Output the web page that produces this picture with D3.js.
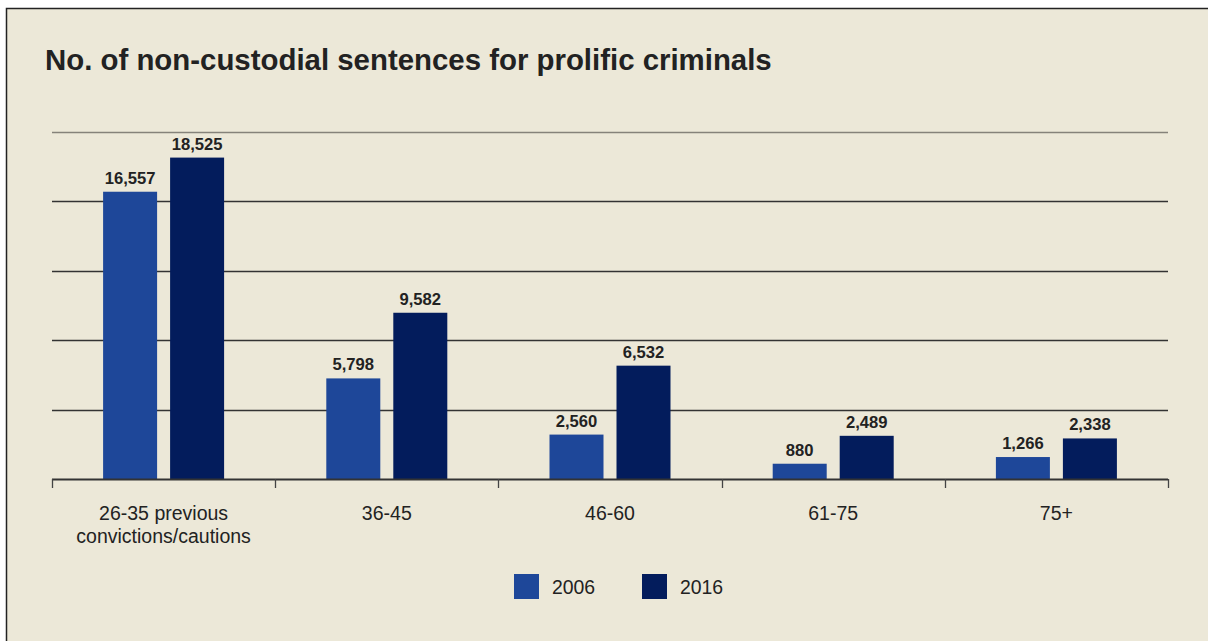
<!DOCTYPE html>
<html><head><meta charset="utf-8">
<script src="https://cdn.jsdelivr.net/npm/d3@7"></script>
<style>html,body{margin:0;padding:0;background:#fff;}svg{display:block;}</style>
</head><body>
<svg id="chart" width="1208" height="641"></svg>
<script>
const categories = [["26-35 previous","convictions/cautions"],["36-45"],["46-60"],["61-75"],["75+"]];
const series = ["2006","2016"];
const values2006 = [16557, 5798, 2560, 880, 1266];
const values2016 = [18525, 9582, 6532, 2489, 2338];
const yTicks = [0, 4000, 8000, 12000, 16000, 20000];
const colors = ["#1e4799", "#031c5c"];

(function(){
const FONT = "Liberation Sans, Arial, sans-serif";
const svg = d3.select("#chart");
svg.append("rect").attr("x",6.5).attr("y",8.5).attr("width",1210).attr("height",640)
  .attr("fill","#ece8d8").attr("stroke","#222").attr("stroke-width",1.5);

svg.append("text").attr("x",45).attr("y",70).text("No. of non-custodial sentences for prolific criminals")
  .attr("font-family",FONT).attr("font-weight","bold")
  .attr("font-size",29.4).attr("fill","#222");

const pL=52, pR=1168, pT=132, pB=479;
const x = d3.scaleBand().domain(d3.range(categories.length)).range([pL,pR]);
const y = d3.scaleLinear().domain([0,20000]).range([pB,pT]);
const barW = 54, gap = 13;
const xs = d3.scaleBand().domain(series).range([0, barW*2+gap]).paddingInner(gap/(barW+gap));

svg.append("g").selectAll("line").data(yTicks.filter(d=>d>0)).join("line")
  .attr("x1",pL).attr("x2",pR).attr("y1",d=>Math.round(y(d))+0.5).attr("y2",d=>Math.round(y(d))+0.5)
  .attr("stroke",d=>d===20000?"#85827a":"#333").attr("stroke-width",1.3);

const data = categories.map((c,i)=>({i, vals:[values2006[i], values2016[i]]}));
const g = svg.append("g");
data.forEach(d=>{
  const cx = x(d.i) + x.bandwidth()/2 - (barW*2+gap)/2;
  series.forEach((s,k)=>{
    const v = d.vals[k];
    g.append("rect").attr("x",cx+xs(s)).attr("y",y(v)).attr("width",xs.bandwidth()).attr("height",y(0)-y(v)).attr("fill",colors[k]);
    g.append("text").attr("x",cx+xs(s)+xs.bandwidth()/2).attr("y",y(v)-8).attr("text-anchor","middle")
      .attr("font-family",FONT).attr("font-weight","bold").attr("font-size",16.6).attr("fill","#222")
      .text(d3.format(",")(v));
  });
});

const axis = svg.append("g");
axis.append("line").attr("x1",pL).attr("x2",pR).attr("y1",pB+0.5).attr("y2",pB+0.5).attr("stroke","#333").attr("stroke-width",2);
const bounds = d3.range(categories.length+1).map(i=> i<categories.length ? x(i) : pR);
axis.selectAll("line.tick").data(bounds).join("line").attr("class","tick")
  .attr("x1",d=>Math.round(d)+0.5).attr("x2",d=>Math.round(d)+0.5).attr("y1",pB).attr("y2",pB+9)
  .attr("stroke","#444").attr("stroke-width",1.3);
categories.forEach((c,i)=>{
  const t = axis.append("text").attr("x",x(i)+x.bandwidth()/2).attr("y",520).attr("text-anchor","middle")
    .attr("font-family",FONT).attr("font-size",19.5).attr("fill","#222");
  c.forEach((line,j)=>t.append("tspan").attr("x",x(i)+x.bandwidth()/2).attr("dy",j===0?0:23).text(line));
});

const legX = [514, 642];
series.forEach((s,k)=>{
  svg.append("rect").attr("x",legX[k]).attr("y",574).attr("width",25).attr("height",25).attr("fill",colors[k]);
  svg.append("text").attr("x",legX[k]+38).attr("y",594).text(s)
    .attr("font-family",FONT).attr("font-size",19.4).attr("fill","#222");
});
})();
</script>
</body></html>
